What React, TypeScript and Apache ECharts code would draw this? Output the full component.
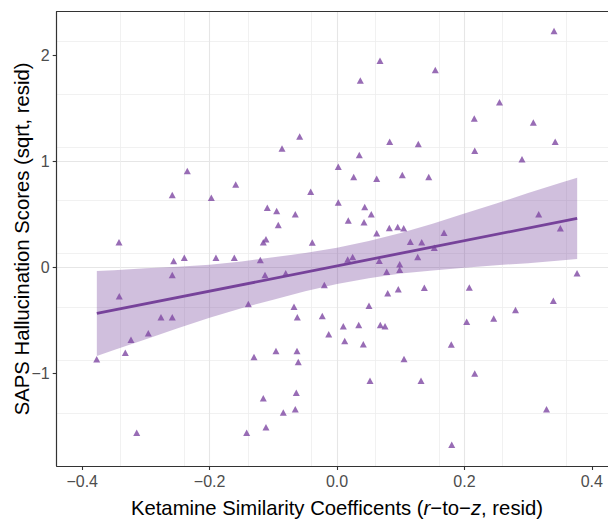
import React, { useEffect, useRef } from "react";
import * as echarts from "echarts";

// Scatter points (Ketamine similarity coefficient, SAPS hallucination residual)
const pointX = [
  -0.3772, -0.3422, -0.3418, -0.3323, -0.3234, -0.3144, -0.2962, -0.2763, -0.2586, -0.2586,
  -0.2564, -0.2397, -0.2586, -0.235, -0.1973, -0.19, -0.1612, -0.159, -0.1418, -0.1392,
  -0.1303, -0.1204, -0.1157, -0.1115, -0.113, -0.1157, -0.1115, -0.1094, -0.0947, -0.0922,
  -0.0958, -0.0863, -0.0843, -0.0805, -0.0675, -0.0655, -0.0655, -0.0639, -0.0628, -0.0623,
  -0.0608, -0.0586, -0.0413, -0.0388, -0.0231, -0.0199, -0.013, 0.002, 0.002, 0.0099,
  0.0121, 0.0168, 0.0177, 0.0246, 0.0262, 0.0341, 0.035, 0.0366, 0.0413, 0.0435,
  0.0424, 0.0502, 0.0518, 0.0538, 0.0623, 0.0623, 0.0664, 0.0675, 0.068, 0.0754,
  0.078, 0.0796, 0.0821, 0.0827, 0.0953, 0.0962, 0.0984, 0.0984, 0.1025, 0.1047,
  0.1052, 0.1151, 0.1267, 0.1276, 0.1319, 0.133, 0.1371, 0.144, 0.1527, 0.1543,
  0.168, 0.1794, 0.1801, 0.2036, 0.2077, 0.2155, 0.2162, 0.2162, 0.246, 0.2551,
  0.2802, 0.2904, 0.3082, 0.3166, 0.3289, 0.3396, 0.3407, 0.3425, 0.3506, 0.3768,
];
const pointY = [
  -0.864, 0.237, -0.271, -0.802, -0.68, -1.556, -0.62, -0.469, -0.469, -0.071,
  0.061, 0.092, 0.683, 0.909, 0.657, 0.092, 0.092, 0.783, -1.556, -0.344,
  -0.843, 0.071, 0.237, 0.266, -0.071, -1.232, -1.505, 0.563, 0.532, 0.4,
  -0.786, 1.122, -1.367, -0.055, -0.369, 0.501, -1.335, -1.179, -0.786, -0.469,
  -0.89, 1.235, 0.714, 0.235, -0.457, -0.165, -0.629, 0.949, 0.612, -0.554,
  -0.692, 0.075, 0.444, 0.099, 0.852, -0.541, 1.059, 1.763, -0.723, 0.57,
  0.426, -0.36, -1.066, 0.501, 0.836, 0.322, 0.064, 1.947, -0.541, -0.554,
  -0.04, -0.243, 0.372, 1.185, 0.381, -0.205, 0.03, -0.021, 0.871, 0.369,
  -0.862, 0.243, 0.099, 1.163, -1.066, 0.237, -0.19, 0.852, 0.186, 1.86,
  0.328, -0.725, -1.669, -0.51, -0.188, 1.405, 1.1, -0.998, -0.48, 1.556,
  -0.4, 1.019, 1.367, 0.501, -1.335, -0.313, 2.227, 1.185, 0.369, -0.055,
];

// Fitted regression line
const fitX = [-0.377, 0.377];
const fitY = [-0.433, 0.463];

// Confidence band
const bandX = [-0.377, -0.35, -0.3, -0.25, -0.2, -0.15, -0.1, -0.05, 0, 0.05, 0.1, 0.15, 0.2, 0.25, 0.3, 0.35, 0.377];
const bandLower = [-0.833, -0.776, -0.676, -0.572, -0.473, -0.383, -0.304, -0.224, -0.155, -0.101, -0.056, -0.027, -0.002, 0.022, 0.041, 0.066, 0.08];
const bandUpper = [-0.033, -0.026, -0.006, 0.008, 0.027, 0.057, 0.096, 0.136, 0.185, 0.249, 0.324, 0.413, 0.508, 0.602, 0.701, 0.796, 0.846];

// Axes
const xTicks = [-0.4, -0.2, 0, 0.2, 0.4];
const yTicks = [-1, 0, 1, 2];
const xMin = -0.44;
const xMax = 0.44;
const yMin = -1.87;
const yMax = 2.41;

const FONT = "'Liberation Sans', Arial, Helvetica, sans-serif";
const PURPLE = "#76429A";

export default function App() {
  const ref = useRef<HTMLDivElement>(null);

  useEffect(() => {
    if (!ref.current) return;
    const chart = echarts.init(ref.current, undefined, { renderer: "svg" });
    const fmtX = (v: number) => (v < -1e-9 ? "\u2212" : "") + Math.abs(v).toFixed(1);
    const fmtY = (v: number) => (v < -1e-9 ? "\u2212" : "") + String(Math.abs(Math.round(v)));
    const minorLine = { color: "#EEEEEE", width: 0.8 };
    const majorLine = { color: "#E6E6E6", width: 1.1 };
    const frame = { color: "#333333", width: 1.2 };

    chart.setOption({
      animation: false,
      backgroundColor: "#ffffff",
      grid: {
        left: 48.7,
        top: 3.7,
        right: 10.7,
        bottom: 53,
        containLabel: false,
        outerBoundsMode: "none",
      },
      xAxis: [
        {
          type: "value",
          position: "top",
          min: xMin,
          max: xMax,
          interval: 0.1,
          axisLine: { show: true, onZero: false, lineStyle: frame },
          axisTick: { show: false },
          axisLabel: { show: false },
          splitLine: { show: true, showMinLine: false, showMaxLine: false, lineStyle: minorLine },
        },
        {
          type: "value",
          position: "bottom",
          min: xMin,
          max: xMax,
          interval: 0.2,
          axisLine: { show: true, onZero: false, lineStyle: frame },
          axisTick: { show: true, length: 4, customValues: xTicks, lineStyle: { color: "#333333", width: 1.1 } },
          axisLabel: {
            show: true,
            customValues: xTicks,
            formatter: fmtX,
            color: "#4D4D4D",
            fontSize: 16,
            fontFamily: FONT,
            margin: 7,
          },
          splitLine: { show: true, showMinLine: false, showMaxLine: false, lineStyle: majorLine },
          name: "Ketamine Similarity Coefficents ({i|r}\u2212to\u2212{i|z}, resid)",
          nameLocation: "middle",
          nameGap: 32,
          nameMoveOverlap: false,
          nameTextStyle: {
            fontSize: 20.3,
            color: "#000000",
            fontFamily: FONT,
            rich: { i: { fontStyle: "italic", fontSize: 20.3, color: "#000000", fontFamily: FONT } },
          },
        },
      ],
      yAxis: [
        {
          type: "value",
          position: "right",
          min: yMin,
          max: yMax,
          interval: 0.5,
          axisLine: { show: false, onZero: false },
          axisTick: { show: false },
          axisLabel: { show: false },
          splitLine: { show: true, showMinLine: false, showMaxLine: false, lineStyle: minorLine },
        },
        {
          type: "value",
          position: "left",
          min: yMin,
          max: yMax,
          interval: 1,
          axisLine: { show: true, onZero: false, lineStyle: frame },
          axisTick: { show: true, length: 4, customValues: yTicks, lineStyle: { color: "#333333", width: 1.1 } },
          axisLabel: {
            show: true,
            customValues: yTicks,
            formatter: fmtY,
            color: "#4D4D4D",
            fontSize: 16,
            fontFamily: FONT,
            margin: 7,
          },
          splitLine: { show: true, showMinLine: false, showMaxLine: false, lineStyle: majorLine },
          name: "SAPS Hallucination Scores (sqrt, resid)",
          nameLocation: "middle",
          nameGap: 25,
          nameMoveOverlap: false,
          nameTextStyle: { fontSize: 20.3, color: "#000000", fontFamily: FONT },
        },
      ],
      series: [
        {
          type: "custom",
          xAxisIndex: 1,
          yAxisIndex: 1,
          silent: true,
          z: 1,
          data: bandX.map((x, i) => [x, bandLower[i], bandUpper[i]]),
          encode: { x: 0, y: [1, 2] },
          renderItem: (params: any, api: any) => {
            if (params.dataIndex !== 0) return null;
            const pts: number[][] = [];
            for (let i = 0; i < bandX.length; i++) pts.push(api.coord([bandX[i], bandUpper[i]]));
            for (let i = bandX.length - 1; i >= 0; i--) pts.push(api.coord([bandX[i], bandLower[i]]));
            return {
              type: "polygon",
              shape: { points: pts },
              style: { fill: "rgba(118,66,154,0.34)", stroke: "none" },
            };
          },
        },
        {
          type: "scatter",
          xAxisIndex: 1,
          yAxisIndex: 1,
          z: 2,
          symbol: "triangle",
          symbolSize: [7, 6.5],
          itemStyle: { color: "#7E47A2" },
          data: pointX.map((x, i) => [x, pointY[i]]),
        },
        {
          type: "line",
          xAxisIndex: 1,
          yAxisIndex: 1,
          z: 3,
          showSymbol: false,
          symbol: "none",
          lineStyle: { color: PURPLE, width: 2.8 },
          data: fitX.map((x, i) => [x, fitY[i]]),
        },
      ],
    });
    return () => chart.dispose();
  }, []);

  return (
    <div style={{ width: 608, height: 511, overflow: "hidden" }}>
      <div ref={ref} style={{ width: 620, height: 511 }} />
    </div>
  );
}
